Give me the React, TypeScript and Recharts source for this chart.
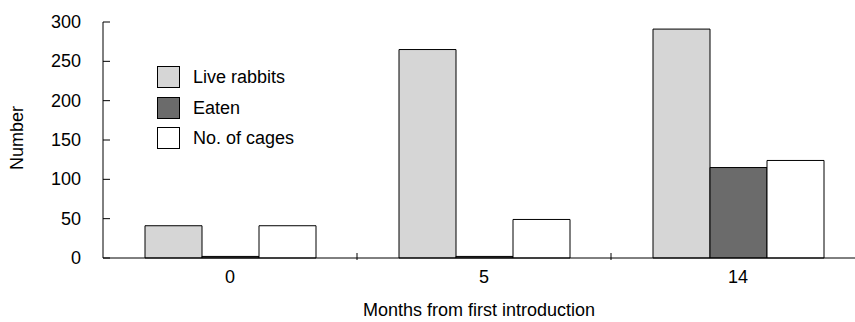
import React from 'react';
import { BarChart, Bar, XAxis, YAxis, Label } from 'recharts';

const months = ['0', '5', '14'];
const liveRabbits = [41, 265, 291];
const eaten = [2, 2, 115];
const cages = [41, 49, 124];
const yTicks = [0, 50, 100, 150, 200, 250, 300];

const seriesInfo = [
  { key: 'live', name: 'Live rabbits', fill: '#d6d6d6' },
  { key: 'eaten', name: 'Eaten', fill: '#6b6b6b' },
  { key: 'cages', name: 'No. of cages', fill: '#ffffff' },
];

const data = months.map((m, i) => ({
  month: m,
  live: liveRabbits[i],
  eaten: eaten[i],
  cages: cages[i],
}));

const FONT = '"Liberation Sans", Arial, Helvetica, sans-serif';
const FS = 18;

const YTick = (props: any) => {
  const { x, y, payload } = props;
  return (
    <g>
      <line x1={x + 22} x2={x + 29} y1={y} y2={y} stroke="#000" strokeWidth={1} />
      <text x={x} y={y} dy={6} textAnchor="end" fontSize={FS} fontFamily={FONT} fill="#000">
        {payload.value}
      </text>
    </g>
  );
};

const XTick = (props: any) => {
  const { x, y, payload, index, width, visibleTicksCount } = props;
  const band = width / (visibleTicksCount || months.length);
  const sepX = x - band / 2;
  return (
    <g>
      {index > 0 && <line x1={sepX} x2={sepX} y1={y} y2={y - 7} stroke="#000" strokeWidth={1} />}
      <text x={x} y={y + 23} textAnchor="middle" fontSize={FS} fontFamily={FONT} fill="#000">
        {payload.value}
      </text>
    </g>
  );
};

const LegendBox = () => (
  <div
    style={{
      position: 'absolute',
      left: 157,
      top: 66,
      fontFamily: FONT,
      fontSize: FS,
      color: '#000',
      lineHeight: '22px',
    }}
  >
    {seriesInfo.map((s) => (
      <div key={s.key} style={{ display: 'flex', alignItems: 'center', height: 22, marginBottom: 8.5 }}>
        <div
          style={{
            width: 21,
            height: 20,
            background: s.fill,
            border: '1px solid #000',
            marginRight: 13,
          }}
        />
        <span>{s.name}</span>
      </div>
    ))}
  </div>
);

export default function App() {
  return (
    <div style={{ position: 'absolute', left: 0, top: 0, width: 855, height: 322, overflow: 'hidden', background: '#fff' }}>
      <BarChart
        width={870}
        height={322}
        data={data}
        margin={{ top: 22, right: 5, left: 43, bottom: 34 }}
        barGap={0}
        barCategoryGap={42}
      >
        <XAxis
          dataKey="month"
          axisLine={{ stroke: '#000', strokeWidth: 1 }}
          tickLine={false}
          tickSize={0}
          height={30}
          tick={<XTick />}
          interval={0}
        >
          <Label
            content={() => (
              <text x={479} y={316} textAnchor="middle" fontSize={FS} fontFamily={FONT} fill="#000">
                Months from first introduction
              </text>
            )}
          />
        </XAxis>
        <YAxis
          domain={[0, 300]}
          ticks={yTicks}
          width={60}
          axisLine={{ stroke: '#000', strokeWidth: 1 }}
          tickLine={false}
          tickSize={0}
          tickMargin={22}
          tick={<YTick />}
          interval={0}
        >
          <Label
            content={() => (
              <text
                x={23}
                y={138}
                transform="rotate(-90 23 138)"
                textAnchor="middle"
                fontSize={FS}
                fontFamily={FONT}
                fill="#000"
              >
                Number
              </text>
            )}
          />
        </YAxis>
        {seriesInfo.map((s) => (
          <Bar
            key={s.key}
            dataKey={s.key}
            name={s.name}
            fill={s.fill}
            stroke="#000"
            strokeWidth={1}
            isAnimationActive={false}
          />
        ))}
      </BarChart>
      <LegendBox />
    </div>
  );
}
